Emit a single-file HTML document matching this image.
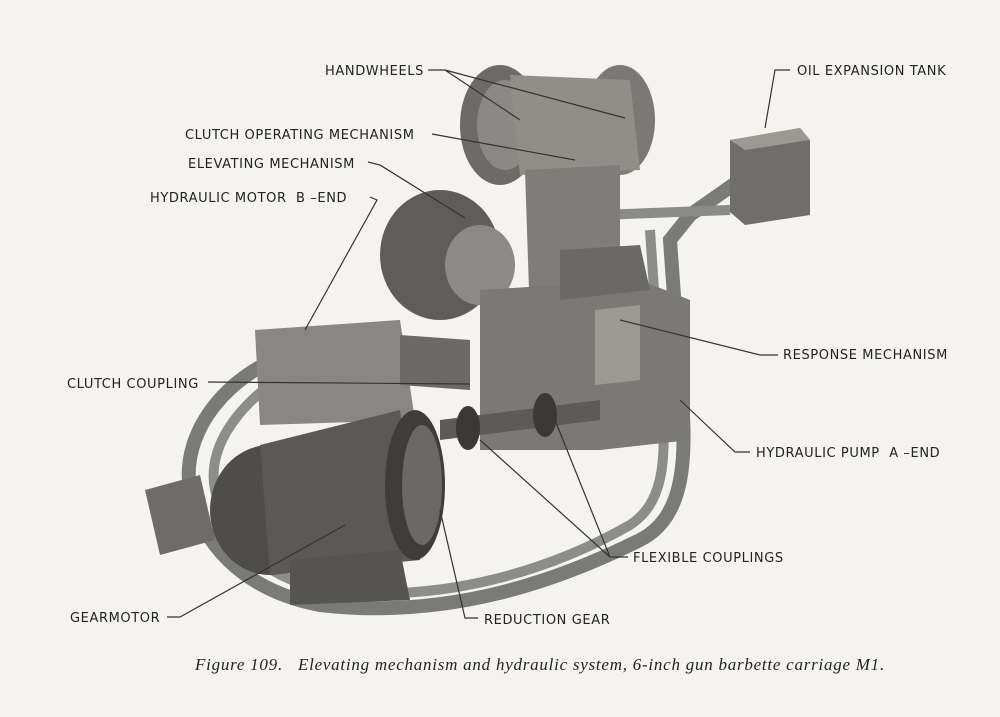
<!DOCTYPE html>
<html><head><style>
body{margin:0;background:#f4f3ef}
svg{display:block}
.l{font-family:"DejaVu Sans","Liberation Sans",sans-serif;font-size:13px;fill:#222;letter-spacing:.6px}
.c{font-family:"Liberation Serif",serif;font-style:italic;font-size:17px;fill:#222;letter-spacing:.8px}
</style></head><body>
<svg width="1000" height="717" viewBox="0 0 1000 717" xmlns="http://www.w3.org/2000/svg">
<rect width="1000" height="717" fill="#f4f3ef"/>
<g stroke="none">
<path d="M300 350 C230 370 180 430 190 490 C200 540 240 590 320 605 C450 620 560 580 640 540 C680 520 690 470 680 380 L670 240 L690 215 L740 180" fill="none" stroke="#7a7a76" stroke-width="14"/>
<path d="M310 360 C250 390 205 440 215 490 C225 535 260 580 330 590 C450 605 560 565 630 525 C660 505 670 470 660 380 L650 230" fill="none" stroke="#8c8c88" stroke-width="10"/>
<path d="M600 215 L730 210" fill="none" stroke="#8a8a86" stroke-width="10"/>
<path d="M730 140 L800 128 L810 140 L810 215 L745 225 L730 212 Z" fill="#6f6e6a"/>
<path d="M730 140 L800 128 L810 140 L745 150 Z" fill="#9a9994"/>
<ellipse cx="500" cy="125" rx="40" ry="60" fill="#6c6b67"/>
<ellipse cx="505" cy="125" rx="28" ry="45" fill="#8a8985"/>
<ellipse cx="620" cy="120" rx="35" ry="55" fill="#7a7975"/>
<path d="M510 75 L630 80 L640 170 L520 175 Z" fill="#8f8e89"/>
<path d="M525 170 L620 165 L620 310 L530 320 Z" fill="#7e7d79"/>
<ellipse cx="440" cy="255" rx="60" ry="65" fill="#5e5d59"/>
<ellipse cx="480" cy="265" rx="35" ry="40" fill="#8b8a86"/>
<path d="M480 290 L640 280 L690 300 L690 440 L600 450 L480 450 Z" fill="#7a7975"/>
<path d="M560 250 L640 245 L650 290 L560 300 Z" fill="#6a6965"/>
<path d="M595 310 L640 305 L640 380 L595 385 Z" fill="#9a9994"/>
<path d="M255 330 L400 320 L415 420 L260 425 Z" fill="#888783"/>
<path d="M400 335 L470 340 L470 390 L400 385 Z" fill="#6b6a66"/>
<ellipse cx="270" cy="510" rx="60" ry="65" fill="#4e4d4a"/>
<path d="M260 445 L400 410 L420 560 L270 575 Z" fill="#5a5955"/>
<ellipse cx="415" cy="485" rx="30" ry="75" fill="#3e3d3a"/>
<ellipse cx="422" cy="485" rx="20" ry="60" fill="#6a6965"/>
<path d="M145 490 L200 475 L215 540 L160 555 Z" fill="#6d6c68"/>
<path d="M290 560 L400 550 L410 600 L290 605 Z" fill="#555450"/>
<path d="M440 420 L600 400 L600 420 L440 440 Z" fill="#5c5b57"/>
<ellipse cx="468" cy="428" rx="12" ry="22" fill="#3a3936"/>
<ellipse cx="545" cy="415" rx="12" ry="22" fill="#3a3936"/>
</g>
<g stroke="#333" stroke-width="1.2" fill="none">
<path d="M428 70 L445 70 L520 120 M445 70 L625 118"/>
<path d="M432 134 L575 160"/>
<path d="M368 162 L380 165 L465 218"/>
<path d="M370 197 L377 200 L305 330"/>
<path d="M790 70 L775 70 L765 128"/>
<path d="M778 355 L760 355 L620 320"/>
<path d="M208 382 L470 384"/>
<path d="M750 452 L735 452 L680 400"/>
<path d="M628 557 L610 557 L480 440 M610 557 L555 420"/>
<path d="M167 617 L180 617 L345 525"/>
<path d="M478 618 L465 618 L440 510"/>
</g>
<g class="l">
<text x="325" y="75">HANDWHEELS</text>
<text x="185" y="139">CLUTCH OPERATING MECHANISM</text>
<text x="188" y="168">ELEVATING MECHANISM</text>
<text x="150" y="202">HYDRAULIC MOTOR &#160;B –END</text>
<text x="797" y="75">OIL EXPANSION TANK</text>
<text x="783" y="359">RESPONSE MECHANISM</text>
<text x="67" y="388">CLUTCH COUPLING</text>
<text x="756" y="457">HYDRAULIC PUMP &#160;A –END</text>
<text x="633" y="562">FLEXIBLE COUPLINGS</text>
<text x="70" y="622">GEARMOTOR</text>
<text x="484" y="624">REDUCTION GEAR</text>
</g>
<text class="c" x="195" y="670" textLength="690" lengthAdjust="spacing">Figure 109. &#160;&#160;Elevating mechanism and hydraulic system, 6-inch gun barbette carriage M1.</text>
</svg>
</body></html>
